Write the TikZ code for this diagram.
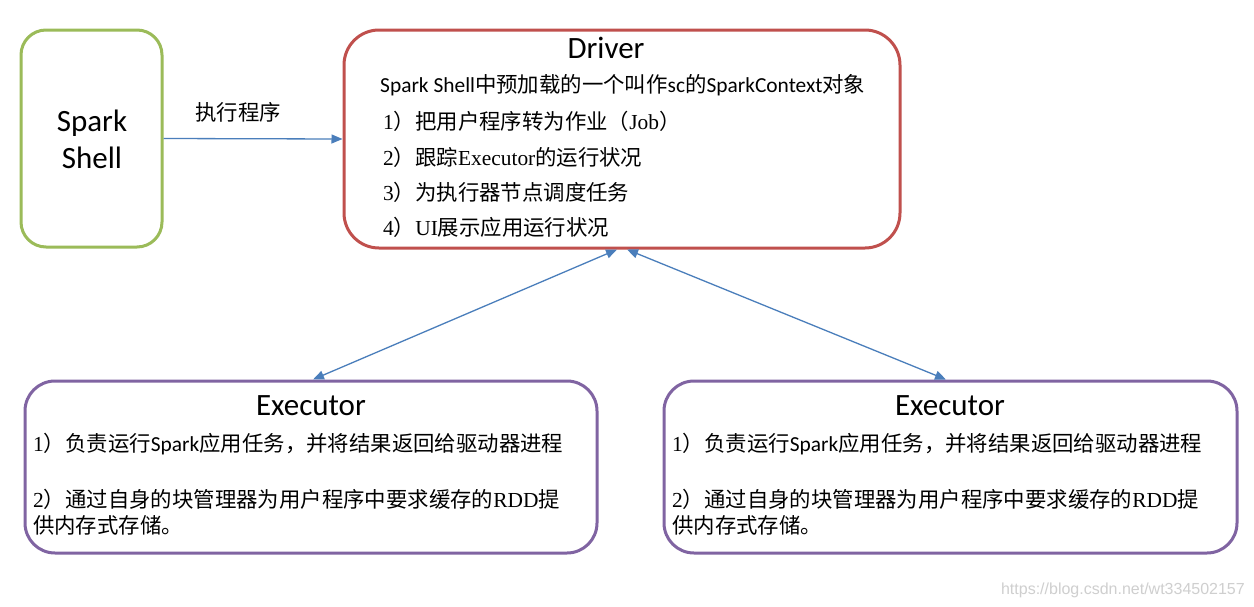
\documentclass[tikz,border=0pt]{standalone}
\usepackage{fontspec}
\setmainfont{Liberation Serif}
\newfontfamily\cjk{Noto Sans CJK SC}
\newfontfamily\calfont{Carlito}
\newfontfamily\arl{Liberation Sans}
\usetikzlibrary{arrows.meta}
\definecolor{cgreen}{HTML}{9BBB59}
\definecolor{cred}{HTML}{C0504D}
\definecolor{cpurple}{HTML}{8064A2}
\definecolor{cblue}{HTML}{4A7EBB}
\definecolor{cwm}{HTML}{CFCFCF}
\tikzset{
  box/.style={line width=3pt, fill=white, inner sep=0pt},
  txt/.style={inner sep=0pt, anchor=base west, font=\fontsize{21.4}{21.4}\selectfont},
  ttl/.style={inner sep=0pt, anchor=base, font=\calfont\fontsize{31}{31}\selectfont},
  conn/.style={cblue, line width=1.3pt, -{Triangle[length=11pt,width=9pt]}},
  conn2/.style={cblue, line width=1.3pt, {Triangle[length=11pt,width=9pt]}-{Triangle[length=11pt,width=9pt]}}
}
\begin{document}
\begin{tikzpicture}[x=1pt,y=-1pt]
\useasboundingbox[fill=white] (0,0) rectangle (1254,606);
% boxes
\node[box, draw=cgreen, rounded corners=25pt, minimum width=141pt, minimum height=217pt] (shell) at (91.5,138.5) {};
\node[box, draw=cred, rounded corners=35pt, minimum width=556pt, minimum height=218pt] (driver) at (622,139) {};
\node[box, draw=cpurple, rounded corners=30pt, minimum width=572pt, minimum height=172pt] (exL) at (311,467) {};
\node[box, draw=cpurple, rounded corners=30pt, minimum width=573pt, minimum height=172pt] (exR) at (950.5,467) {};
% Spark Shell
\node[ttl] (sp1) at (92,131) {Spark};
\node[ttl] (sp2) at (92,168) {Shell};
% connectors
\draw[conn] (shell.east) -- (driver.west);
\node[txt] (lbl) at (195,120) {\cjk 执行程序};
\draw[conn2] ([xshift=-5pt]driver.south) -- ([xshift=2pt]exL.north);
\draw[conn2] ([xshift=5pt]driver.south) -- ([xshift=-4.5pt]exR.north);
% Driver
\node[ttl] (dt) at (606,58) {Driver};
\node[txt] (d0) at (380,92) {{\calfont Spark Shell}{\cjk 中预加载的一个叫作}{\calfont sc}{\cjk 的}{\calfont SparkContext}{\cjk 对象}};
\node[txt] (d1) at (383,129) {1{\cjk ）把用户程序转为作业（}Job{\cjk ）}};
\node[txt] (d2) at (383,165) {2{\cjk ）跟踪}Executor{\cjk 的运行状况}};
\node[txt] (d3) at (383,200) {3{\cjk ）为执行器节点调度任务}};
\node[txt] (d4) at (383,235) {4{\cjk ）}UI{\cjk 展示应用运行状况}};
% Executor left
\node[ttl] (et1) at (311,415) {Executor};
\node[txt] (l1) at (33,451) {1{\cjk ）负责运行}{\calfont Spark}{\cjk 应用任务，并将结果返回给驱动器进程}};
\node[txt] (l2) at (33,507) {2{\cjk ）通过自身的块管理器为用户程序中要求缓存的}RDD{\cjk 提}};
\node[txt] (l3) at (33,533) {{\cjk 供内存式存储。}};
% Executor right
\node[ttl] (et2) at (950,415) {Executor};
\node[txt] (r1) at (672,451) {1{\cjk ）负责运行}{\calfont Spark}{\cjk 应用任务，并将结果返回给驱动器进程}};
\node[txt] (r2) at (672,507) {2{\cjk ）通过自身的块管理器为用户程序中要求缓存的}RDD{\cjk 提}};
\node[txt] (r3) at (672,533) {{\cjk 供内存式存储。}};
% watermark
\node[inner sep=0pt, anchor=base east, text=cwm, font=\arl\fontsize{16}{16}\selectfont] (wm) at (1245,594) {https://blog.csdn.net/wt334502157};
\end{tikzpicture}
\end{document}
